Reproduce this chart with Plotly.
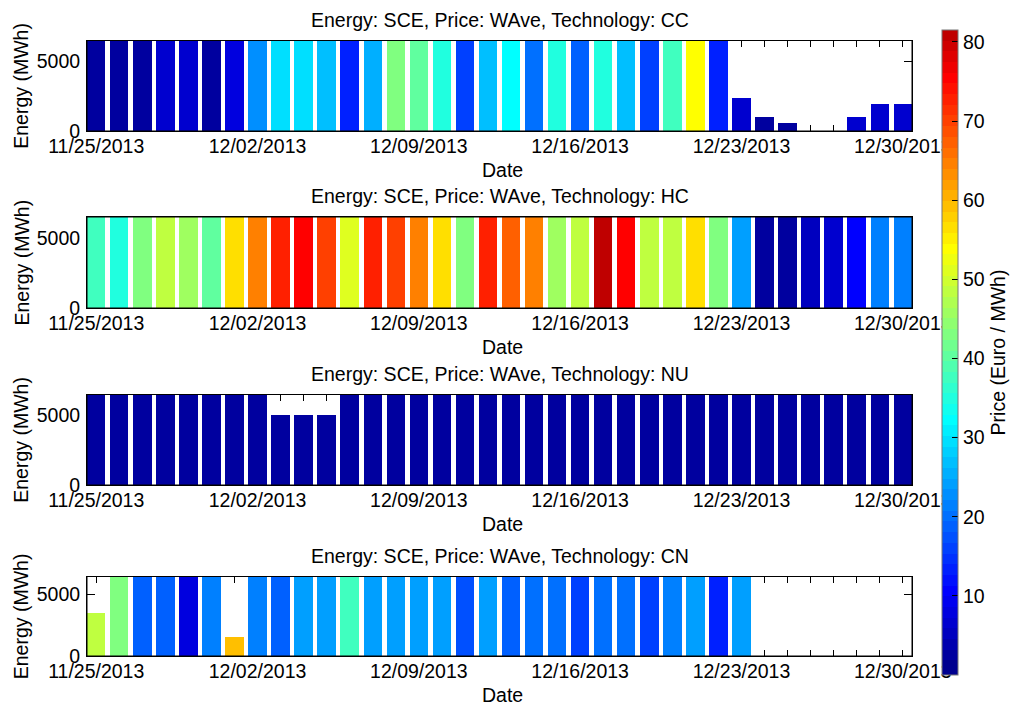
import numpy as np
import pandas as pd
import plotly.graph_objects as go

W, H = 1013, 706

# ---------------- data ----------------
dates = pd.date_range("2013-11-25", "2013-12-30", freq="D")
week_labels = ["11/25/2013", "12/02/2013", "12/09/2013", "12/16/2013", "12/23/2013", "12/30/2013"]
technologies = ["CC", "HC", "NU", "CN"]

cc_energy = [6470, 6470, 6470, 6470, 6470, 6470, 6470, 6470, 6470, 6470, 6470, 6470,
             6470, 6470, 6470, 6470, 6470, 6470, 6470, 6470, 6470, 6470, 6470, 6470,
             6470, 6470, 6470, 6470, 2400, 1050, 590, None, None, 1050, 2000, 2000]
cc_price = [2.5, 2.5, 2.5, 6.6, 6.6, 2.5, 7.9, 22.8, 29.5, 29.5, 26.8, 13.3,
            25.5, 43.0, 40.3, 34.9, 16.0, 26.8, 32.2, 20.1, 34.9, 18.7, 34.9, 26.8,
            16.0, 37.6, 53.8, 13.3, 6.6, 2.5, 2.5, None, None, 6.6, 6.6, 6.6]

hc_energy = [6470, 6470, 6470, 6470, 6470, 6470, 6470, 6470, 6470, 6470, 6470, 6470,
             6470, 6470, 6470, 6470, 6470, 6470, 6470, 6470, 6470, 6470, 6470, 6470,
             6470, 6470, 6470, 6470, 6470, 6470, 6470, 6470, 6470, 6470, 6470, 6470]
hc_price = [37.6, 34.9, 43.0, 48.4, 45.7, 40.3, 56.5, 64.6, 72.7, 75.4, 70.0, 51.1,
            72.7, 70.0, 64.6, 56.5, 43.0, 72.7, 67.3, 64.6, 45.7, 48.4, 81.0, 75.4,
            48.4, 48.4, 56.5, 43.0, 24.1, 2.5, 2.5, 5.2, 6.6, 10.6, 21.4, 21.4]

nu_energy = [6470, 6470, 6470, 6470, 6470, 6470, 6470, 6470, 5050, 5050, 5050, 6470,
             6470, 6470, 6470, 6470, 6470, 6470, 6470, 6470, 6470, 6470, 6470, 6470,
             6470, 6470, 6470, 6470, 6470, 6470, 6470, 6470, 6470, 6470, 6470, 6470]
nu_price = [2.5, 2.5, 2.5, 2.5, 2.5, 2.5, 2.5, 2.5, 2.5, 2.5, 2.5, 2.5,
            2.5, 2.5, 2.5, 2.5, 2.5, 2.5, 2.5, 2.5, 2.5, 2.5, 2.5, 2.5,
            2.5, 2.5, 2.5, 2.5, 2.5, 2.5, 2.5, 2.5, 2.5, 2.5, 2.5, 2.5]

cn_energy = [3520, 6470, 6470, 6470, 6470, 6470, 1550, 6470, 6470, 6470, 6470, 6470,
             6470, 6470, 6470, 6470, 6470, 6470, 6470, 6470, 6470, 6470, 6470, 6470,
             6470, 6470, 6470, 6470, 6470, None, None, None, None, None, None, None]
cn_price = [48.4, 43.0, 18.7, 18.7, 7.9, 21.4, 59.2, 21.4, 18.7, 24.1, 24.1, 37.6,
            24.1, 24.1, 24.1, 24.1, 17.4, 24.1, 18.7, 20.1, 20.1, 16.0, 20.1, 20.1,
            16.0, 21.4, 24.1, 13.3, 24.1, None, None, None, None, None, None, None]

energies = [cc_energy, hc_energy, nu_energy, cn_energy]
prices = [cc_price, hc_price, nu_price, cn_price]

y_ticks = [0, 5000]
cbar_ticks = [10, 20, 30, 40, 50, 60, 70, 80]
PRICE_MIN, PRICE_MAX = 0.0, 81.5      # colour bar limits
JET_LO, JET_HI = 0.5, 86.9            # limits the jet map is stretched over
Y_MAX = 6470

# ---------------- colour map (MATLAB jet(64)) ----------------
def jet(m=64):
    n = int(np.ceil(m / 4))
    u = np.concatenate([np.arange(1, n + 1) / n, np.ones(n - 1), np.arange(n, 0, -1) / n])
    g = int(np.ceil(n / 2)) - (1 if m % 4 == 1 else 0) + np.arange(1, len(u) + 1)
    r = g + n
    b = g - n
    J = np.zeros((m, 3))
    gm = g[g <= m]; J[gm - 1, 1] = u[:len(gm)]
    rm = r[r <= m]; J[rm - 1, 0] = u[:len(rm)]
    bm = b[b >= 1]; J[bm - 1, 2] = u[len(u) - len(bm):]
    return J

J = jet(64)
span = PRICE_MAX - PRICE_MIN
edges = [JET_LO + i * (JET_HI - JET_LO) / 64 for i in range(65)]
edges = [min(1.0, max(0.0, round((e - PRICE_MIN) / span, 6))) for e in edges]
edges[0] = 0.0
colorscale = []
for i, c in enumerate(J):
    p0, p1 = edges[i], edges[i + 1]
    if p0 >= 1.0:
        break
    col = "rgb(%d,%d,%d)" % tuple(int(round(x * 255)) for x in c)
    colorscale.append([p0, col])
    colorscale.append([p1, col])
colorscale[-1][0] = 1.0

# ---------------- layout geometry (pixels) ----------------
x_left, x_right = 87, 912
panels_px = [(40.5, 131), (217, 308), (394.5, 485), (576.5, 656)]
FONT = "Liberation Sans, Arial, Helvetica, sans-serif"
FS = 19.5

x_range = [dates[0] - pd.Timedelta(hours=9.6), dates[-1] + pd.Timedelta(hours=9.6)]
tick_text = [d.strftime("%m/%d/%Y") if d.strftime("%m/%d/%Y") in week_labels else "" for d in dates]

fig = go.Figure()
annotations = []
shapes = []
for k, tech in enumerate(technologies):
    xs, ys, cs = [], [], []
    for d, e, p in zip(dates, energies[k], prices[k]):
        if e is not None:
            xs.append(d); ys.append(e); cs.append(p)
    ax = "" if k == 0 else str(k + 1)
    fig.add_trace(go.Bar(
        x=xs, y=ys, xaxis="x" + ax, yaxis="y" + ax,
        width=0.8 * 86400000,
        marker=dict(color=cs, coloraxis="coloraxis", line=dict(width=0)),
        showlegend=False,
    ))
    top, bot = panels_px[k]
    dom_y = [1 - bot / H, 1 - top / H]
    common = dict(showline=True, linecolor="black", linewidth=1, mirror="ticks",
                  ticks="inside", tickcolor="black", showgrid=False, zeroline=False,
                  automargin=False,
                  tickfont=dict(family=FONT, size=FS, color="black"), layer="below traces")
    fig.layout["xaxis" + ax] = dict(
        domain=[x_left / W, x_right / W], anchor="y" + ax, type="date",
        range=x_range, tickmode="array", tickvals=list(dates), ticktext=tick_text,
        ticklen=6, ticklabelstandoff=-2, **common)
    fig.layout["yaxis" + ax] = dict(
        domain=dom_y, anchor="x" + ax, range=[0, Y_MAX], tickmode="array",
        tickvals=y_ticks, ticktext=[str(v) for v in y_ticks], ticklen=8,
        ticklabelstandoff=2, **common)
    # frame drawn over bars
    shapes.append(dict(type="rect", xref="x" + ax + " domain", yref="y" + ax + " domain",
                       x0=0, x1=1, y0=0, y1=1, line=dict(color="black", width=1),
                       layer="above"))
    annotations.append(dict(
        text="Energy: SCE, Price: WAve, Technology: " + tech,
        xref="paper", yref="paper", x=(x_left + x_right) / 2 / W, y=1 - (top - 21) / H,
        xanchor="center", yanchor="middle", showarrow=False,
        font=dict(family=FONT, size=FS, color="black")))
    annotations.append(dict(
        text="Date", xref="paper", yref="paper", x=502 / W, y=1 - (bot + 39) / H,
        xanchor="center", yanchor="middle", showarrow=False,
        font=dict(family=FONT, size=FS, color="black")))
    annotations.append(dict(
        text="Energy (MWh)", xref="paper", yref="paper", x=21 / W, y=1 - (top + bot) / 2 / H,
        xanchor="center", yanchor="middle", textangle=-90, showarrow=False,
        font=dict(family=FONT, size=FS, color="black")))

fig.update_layout(
    width=W, height=H,
    margin=dict(l=0, r=0, t=0, b=0, autoexpand=False),
    paper_bgcolor="white", plot_bgcolor="white",
    font=dict(family=FONT, size=FS, color="black"),
    bargap=0,
    annotations=annotations,
    shapes=shapes,
    coloraxis=dict(
        colorscale=colorscale, cmin=PRICE_MIN, cmax=PRICE_MAX,
        colorbar=dict(
            thickness=16, thicknessmode="pixels",
            len=645 / H, lenmode="fraction",
            xref="container", yref="container",
            x=942 / W, xanchor="left", y=1 - 30 / H, yanchor="top",
            xpad=0, ypad=0, outlinecolor="#777777", outlinewidth=1,
            tickmode="array", tickvals=cbar_ticks, ticks="inside", ticklen=6,
            tickcolor="black", tickfont=dict(family=FONT, size=FS, color="black"),
            title=dict(text="Price (Euro / MWh)", side="right",
                       font=dict(family=FONT, size=FS, color="black")),
        ),
    ),
)

fig.write_html("out.html", config={"displayModeBar": False},
               post_script="document.body.style.margin='0';document.body.style.padding='0';")
